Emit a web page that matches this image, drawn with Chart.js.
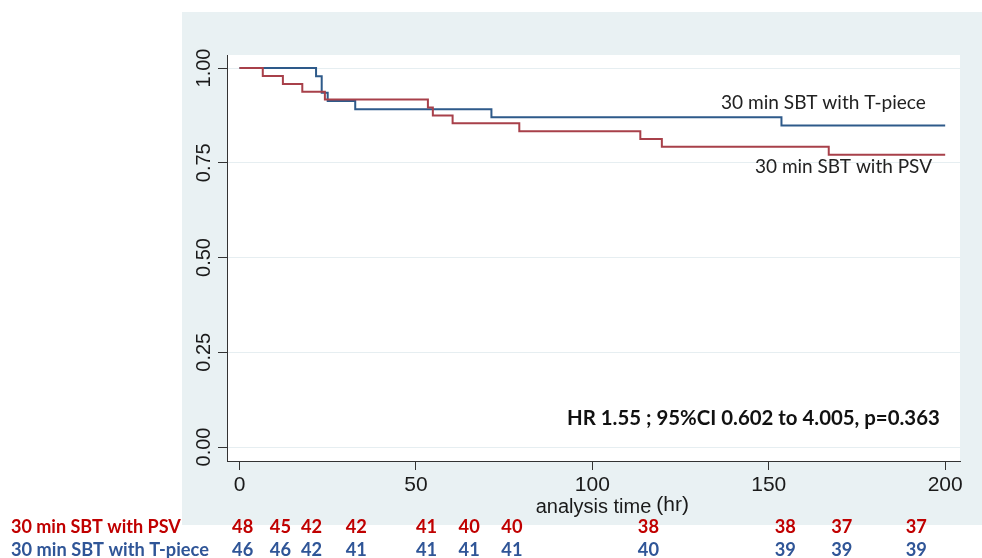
<!DOCTYPE html>
<html>
<head>
<meta charset="utf-8">
<script src="https://cdn.jsdelivr.net/npm/chart.js@4.4.1/dist/chart.umd.min.js"></script>
<style>
  body { margin: 0; background: #fff; }
  #wrap { width: 982px; height: 558px; position: relative; }
</style>
</head>
<body>
<div id="wrap"><canvas id="km"></canvas></div>
<script>
// Kaplan-Meier steps (time in hr, survival)
const psvTimes = [0, 6.6, 12.3, 17.8, 24.2, 53.4, 54.8, 60.4, 79.3, 113.6, 119.7, 167, 200];
const psvSurv  = [1, 0.979, 0.958, 0.9375, 0.917, 0.896, 0.875, 0.854, 0.833, 0.8125, 0.792, 0.771, 0.771];
const tpTimes  = [0, 21.7, 23.3, 25, 32.8, 71.4, 153.6, 200];
const tpSurv   = [1, 0.978, 0.935, 0.913, 0.891, 0.870, 0.848, 0.848];

const xTicks = [0, 50, 100, 150, 200];
const yTicks = [0, 0.25, 0.5, 0.75, 1];

// numbers at risk table
const riskTimes  = [0.9, 11.6, 20.4, 33.1, 53, 65.1, 77.2, 115.9, 154.7, 170.7, 191.8];
const psvAtRisk  = [48, 45, 42, 42, 41, 40, 40, 38, 38, 37, 37];
const tpAtRisk   = [46, 46, 42, 41, 41, 41, 41, 40, 39, 39, 39];

const psvName = "30 min SBT with PSV";
const tpName  = "30 min SBT with T-piece";
const hrText  = "HR 1.55 ; 95%CI 0.602 to 4.005, p=0.363";

const RED_LINE = '#a8404a', BLUE_LINE = '#2e5a8a';
const RED_TXT = '#c00000', BLUE_TXT = '#2f5597';
const SANS = 'Lato, "Open Sans", sans-serif';

// font size that makes text span the given width
function fitFont(ctx, text, width, weight) {
  ctx.font = weight + ' 20px ' + SANS;
  const size = 20 * width / ctx.measureText(text).width;
  return weight + ' ' + size.toFixed(2) + 'px ' + SANS;
}

const decor = {
  id: 'decor',
  beforeDraw(chart) {
    const {ctx, chartArea: a} = chart;
    ctx.save();
    ctx.fillStyle = '#fff';
    ctx.fillRect(0, 0, chart.width, chart.height);
    ctx.fillStyle = '#e9f1f3';
    ctx.fillRect(182, 12, 800, 513);
    ctx.fillStyle = '#fff';
    ctx.fillRect(a.left, a.top, a.right - a.left, a.bottom - a.top);
    ctx.restore();
  },
  afterDraw(chart) {
    const {ctx} = chart;
    const xs = chart.scales.x, ys = chart.scales.y;
    ctx.save();
    // rotated y tick labels
    ctx.fillStyle = '#1a1a1a';
    ctx.font = '20px "Liberation Sans", Arial, sans-serif';
    ctx.textAlign = 'center';
    ctx.textBaseline = 'middle';
    yTicks.forEach(v => {
      ctx.save();
      ctx.translate(203, ys.getPixelForValue(v));
      ctx.rotate(-Math.PI / 2);
      ctx.fillText(v.toFixed(2), 0, 1);
      ctx.restore();
    });
    // "(hr)" after the axis title
    const tw = ctx.measureText('analysis time').width;
    ctx.textAlign = 'left';
    ctx.font = '21px "Liberation Sans", Arial, sans-serif';
    ctx.fillText('(hr)', (xs.left + xs.right) / 2 + tw / 2 + 5, 505);

    // curve labels
    ctx.fillStyle = '#222';
    ctx.textBaseline = 'alphabetic';
    ctx.font = fitFont(ctx, tpName, 205, 'normal');
    ctx.fillText(tpName, 721, 109);
    ctx.font = fitFont(ctx, psvName, 177, 'normal');
    ctx.fillText(psvName, 755, 173);
    ctx.fillStyle = '#111';
    ctx.font = fitFont(ctx, hrText, 373, 'bold');
    ctx.fillText(hrText, 567, 425);

    // numbers at risk
    ctx.textBaseline = 'middle';
    ctx.fillStyle = RED_TXT;
    ctx.font = fitFont(ctx, psvName, 170, 'bold');
    ctx.fillText(psvName, 11, 527);
    ctx.fillStyle = BLUE_TXT;
    ctx.font = fitFont(ctx, tpName, 198, 'bold');
    ctx.fillText(tpName, 11, 550);
    ctx.textAlign = 'center';
    riskTimes.forEach((t, i) => {
      const x = xs.getPixelForValue(t);
      ctx.fillStyle = RED_TXT;
      ctx.fillText(psvAtRisk[i], x, 527);
      ctx.fillStyle = BLUE_TXT;
      ctx.fillText(tpAtRisk[i], x, 550);
    });
    ctx.restore();
  }
};

new Chart(document.getElementById('km'), {
  type: 'line',
  data: {
    datasets: [
      {
        label: psvName,
        data: psvTimes.map((t, i) => ({x: t, y: psvSurv[i]})),
        borderColor: RED_LINE,
        borderWidth: 2,
        pointRadius: 0,
        stepped: true,
        fill: false
      },
      {
        label: tpName,
        data: tpTimes.map((t, i) => ({x: t, y: tpSurv[i]})),
        borderColor: BLUE_LINE,
        borderWidth: 2,
        pointRadius: 0,
        stepped: true,
        fill: false
      }
    ]
  },
  options: {
    responsive: true,
    maintainAspectRatio: false,
    animation: false,
    layout: { padding: { top: 55, right: 22, left: 0, bottom: 0 } },
    plugins: { legend: { display: false }, tooltip: { enabled: false } },
    scales: {
      x: {
        type: 'linear',
        min: -3.54,
        max: 204.2,
        afterBuildTicks: s => { s.ticks = xTicks.map(v => ({value: v})); },
        afterFit: s => { s.height = 97; },
        ticks: {
          color: '#1a1a1a',
          font: { family: '"Liberation Sans", Arial, sans-serif', size: 21 },
          padding: 3,
          maxRotation: 0
        },
        grid: { drawOnChartArea: false, tickLength: 9, tickColor: '#333', color: '#333' },
        border: { color: '#333', width: 1 },
        title: {
          display: true,
          text: 'analysis time',
          color: '#1a1a1a',
          font: { family: '"Liberation Sans", Arial, sans-serif', size: 20 },
          padding: { top: 0, bottom: 39 }
        }
      },
      y: {
        type: 'linear',
        min: -0.0369,
        max: 1.0343,
        afterBuildTicks: s => { s.ticks = yTicks.map(v => ({value: v})); },
        afterFit: s => { s.width = 227; },
        ticks: { display: false },
        grid: { color: '#e6eef1', tickLength: 9, tickColor: '#333' },
        border: { color: '#333', width: 1 }
      }
    }
  },
  plugins: [decor]
});
</script>
</body>
</html>
